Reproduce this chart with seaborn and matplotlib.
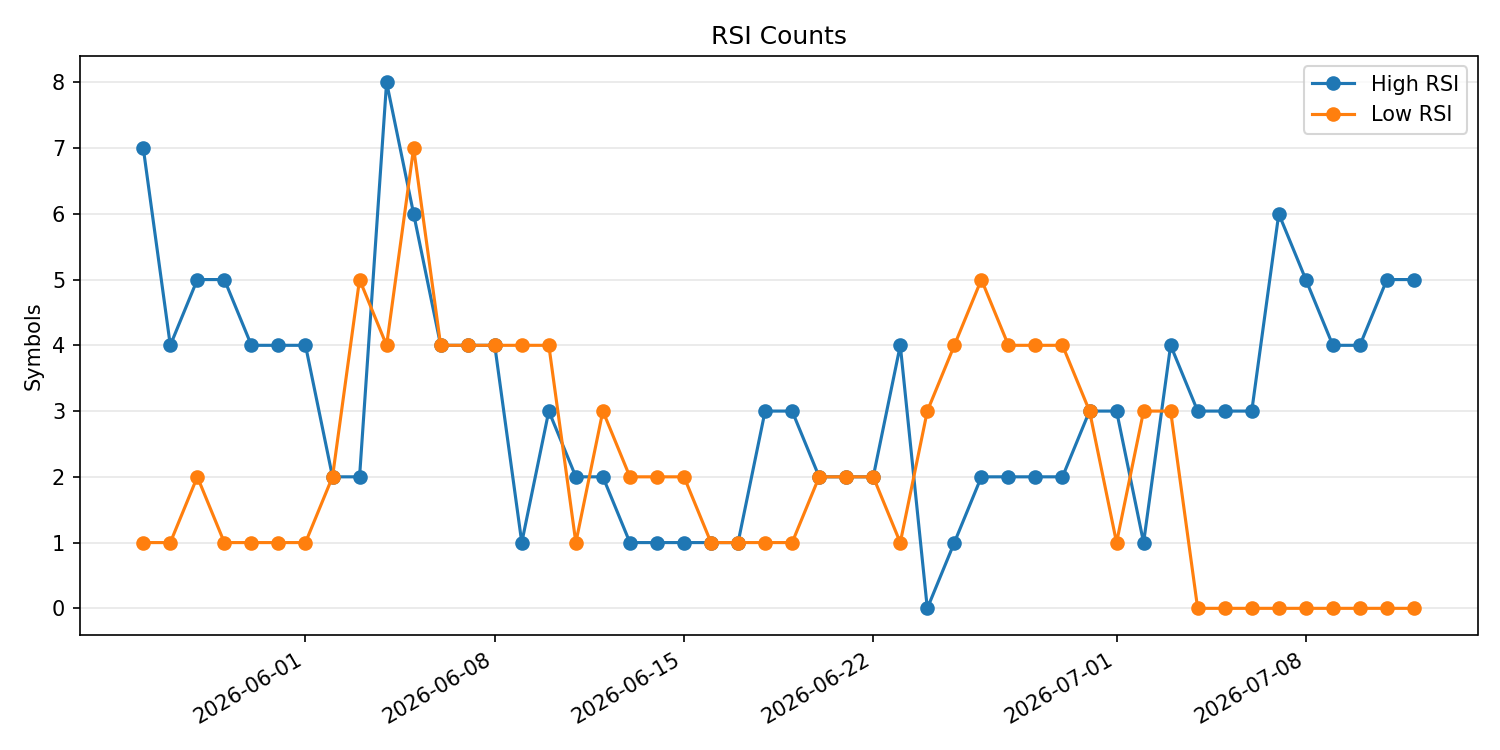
import pandas as pd
import seaborn as sns
import matplotlib
matplotlib.use('Agg')
import matplotlib.pyplot as plt

# daily dates, 2026-05-26 .. 2026-07-12
dates = pd.date_range('2026-05-26', '2026-07-12', freq='D')

high_rsi = [7, 4, 5, 5, 4, 4, 4, 2, 2, 8, 6, 4, 4, 4, 1, 3, 2, 2, 1, 1, 1, 1, 1, 3,
            3, 2, 2, 2, 4, 0, 1, 2, 2, 2, 2, 3, 3, 1, 4, 3, 3, 3, 6, 5, 4, 4, 5, 5]
low_rsi = [1, 1, 2, 1, 1, 1, 1, 2, 5, 4, 7, 4, 4, 4, 4, 4, 1, 3, 2, 2, 2, 1, 1, 1,
           1, 2, 2, 2, 1, 3, 4, 5, 4, 4, 4, 3, 1, 3, 3, 0, 0, 0, 0, 0, 0, 0, 0, 0]

df = pd.DataFrame({'date': dates, 'High RSI': high_rsi, 'Low RSI': low_rsi})

fig, ax = plt.subplots(figsize=(10, 5))
sns.lineplot(data=df, x='date', y='High RSI', marker='o', color='C0',
             markeredgecolor='C0', markeredgewidth=1, label='High RSI', ax=ax)
sns.lineplot(data=df, x='date', y='Low RSI', marker='o', color='C1',
             markeredgecolor='C1', markeredgewidth=1, label='Low RSI', ax=ax)

ax.set_title('RSI Counts')
ax.set_xlabel('')
ax.set_ylabel('Symbols')
ax.grid(axis='y', alpha=0.3)
ax.legend(loc='upper right')
fig.autofmt_xdate()
fig.tight_layout()
fig.savefig('out.png', dpi=150)
